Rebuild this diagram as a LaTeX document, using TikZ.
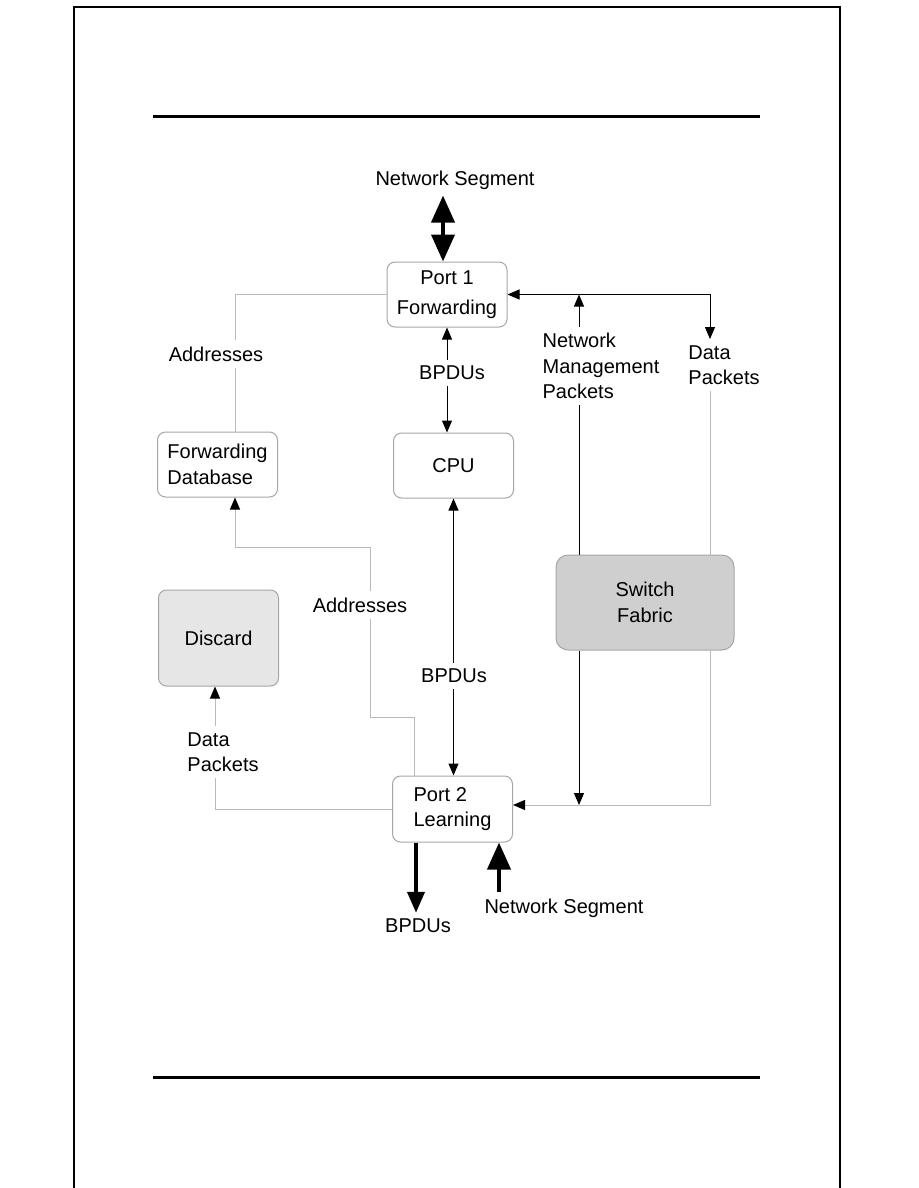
\documentclass[tikz,border=0pt]{standalone}
\usepackage{fontspec}
\setmainfont{Liberation Sans}
\usepackage{tikz}
\usetikzlibrary{arrows.meta,positioning,calc}
\definecolor{stpEdge}{HTML}{A6A6A6}
\definecolor{stpLine}{HTML}{BABABA}
\definecolor{stpDiscard}{HTML}{E6E6E6}
\definecolor{stpFabric}{HTML}{CFCFCF}

\begin{document}
\begin{tikzpicture}[x=1pt,y=-1pt,font=\fontsize{20}{25.5}\selectfont,
  box/.style={draw=stpEdge,line width=1pt,rounded corners=8pt,fill=white,
              minimum width=120pt,minimum height=65pt,inner sep=4pt,align=center},
  lbl/.style={inner sep=6pt,align=left},
  gline/.style={draw=stpLine,line width=1pt},
  bline/.style={draw=black,line width=1pt},
  headto/.style={-{Triangle[length=12pt,width=10pt,color=black]}},
  headboth/.style={{Triangle[length=12pt,width=10pt,color=black]}-{Triangle[length=12pt,width=10pt,color=black]}},
  fat/.style={line width=4pt}]
  \useasboundingbox (0,0) rectangle (918,1188);
  % page frame and rules
  \draw[line width=1.5pt] (74,1188) -- (74,7) -- (840,7) -- (840,1188);
  \draw[line width=3pt] (153,117) -- (760,117);
  \draw[line width=3pt] (153,1077) -- (760,1077);

  % boxes
  \node[box] (port1) at (447,294.5) {Port 1\\[4pt]Forwarding};
  \node[box,align=left] (fdb) at (217.5,464.5) {Forwarding\\Database};
  \node[box] (cpu) at (453.5,465.5) {CPU};
  \node[box,fill=stpDiscard,minimum height=96pt] (discard) at (218.5,638) {Discard};
  \node[box,fill=stpFabric,minimum width=178pt,minimum height=95pt,
        rounded corners=12pt] (fabric) at (645,602.5) {Switch\\Fabric};
  \node[box,align=left,minimum height=66pt] (port2) at (452.5,809) {Port 2\\Learning};

  % labels
  \node[lbl] (seg1) at (455,180) {Network Segment};
  \node[lbl] (addr1) at (216,354) {Addresses};
  \node[lbl] (bpdu1) at (452,373) {BPDUs};
  \node[lbl] (mgmt) at (601,366) {Network\\Management\\Packets};
  \node[lbl] (data1) at (724,365) {Data\\Packets};
  \node[lbl] (addr2) at (360,605) {Addresses};
  \node[lbl] (bpdu2) at (454,676) {BPDUs};
  \node[lbl] (data2) at (223,752) {Data\\Packets};
  \node[lbl] (bpdu3) at (418,926) {BPDUs};
  \node[lbl] (seg2) at (564,908) {Network Segment};

  \coordinate (xa) at (235,0);
  \coordinate (xm) at (579,0);
  \coordinate (xd) at (710,0);
  \coordinate (xp) at (215,0);
  \coordinate (xs) at (416,0);
  \coordinate (xn) at (499,0);
  \coordinate (ad2a) at (414,717);
  \coordinate (ad2b) at (370,547);
  \coordinate (p2in) at ([yshift=4pt]port2.east);

  % port 1
  \draw[fat,{Triangle[length=27pt,width=23pt]}-{Triangle[length=27pt,width=23pt]}]
    ([xshift=-12pt]seg1.south) -- ([xshift=-4pt]port1.north);
  \draw[gline] (port1.west) -| (xa |- addr1.north);
  \draw[gline] (xa |- addr1.south) -- (xa |- fdb.north);
  \draw[bline,headto] (port1.south |- bpdu1.north) -- (port1.south);
  \draw[bline,headto] (port1.south |- bpdu1.south) -- (port1.south |- cpu.north);
  \draw[bline,headboth] (port1.east) -| (xd |- data1.north);
  \draw[bline,headto] (xm |- mgmt.north) -- (xm |- port1.east);

  % switch fabric
  \draw[bline] (xm |- mgmt.south) -- (xm |- fabric.north);
  \draw[bline,headto] (xm |- fabric.south) -- (xm |- p2in);
  \draw[gline] (xd |- data1.south) -- (xd |- fabric.north);
  \draw[gline,headto] (xd |- fabric.south) |- (p2in);

  % port 2
  \draw[bline,headto] (cpu.south |- bpdu2.north) -- (cpu.south);
  \draw[bline,headto] (cpu.south |- bpdu2.south) -- (cpu.south |- port2.north);
  \draw[gline] (ad2a |- port2.north) -- (ad2a) -| (ad2b |- addr2.south);
  \draw[gline,headto] (ad2b |- addr2.north) -- (ad2b) -| (xa |- fdb.south);
  \draw[gline] (port2.west) -| (xp |- data2.south);
  \draw[gline,headto] (xp |- data2.north) -- (xp |- discard.south);
  \draw[fat,-{Triangle[length=21pt,width=17pt]}] (xs |- port2.south) -- (xs |- bpdu3.north);
  \draw[fat,-{Triangle[length=27pt,width=23pt]}] (xn |- seg2.north) -- (xn |- port2.south);
\end{tikzpicture}
\end{document}
